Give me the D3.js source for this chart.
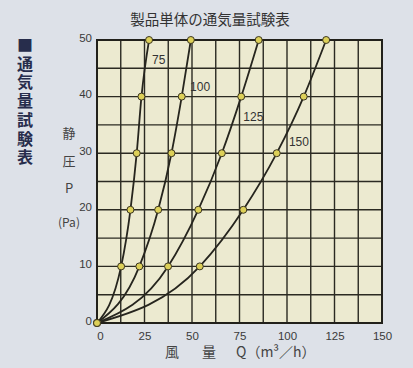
<!DOCTYPE html>
<html>
<head>
<meta charset="utf-8">
<script src="https://cdn.jsdelivr.net/npm/d3@7"></script>
<style>
  body { margin: 0; background: #dde1e8; }
  svg { display: block; font-family: "Noto Sans CJK JP", "Noto Sans", sans-serif; }
</style>
</head>
<body>
<script>
var svgWidth = 413;
var svgHeight = 368;
var margin = {top: 40, right: 31, bottom: 45, left: 97};

var width = svgWidth - margin.left - margin.right;
var height = svgHeight - margin.top - margin.bottom;

// data: Q (m3/h) at each static pressure P (Pa)
var pressures = [0, 10, 20, 30, 40, 50];
var curve75 = [0, 12.7, 17.6, 20.9, 23.4, 27.4];
var curve100 = [0, 22.3, 32.2, 39.2, 44.6, 49.4];
var curve125 = [0, 37.4, 53.3, 65.7, 75.9, 85.1];
var curve150 = [0, 54.1, 77.0, 94.6, 108.8, 120.6];
var curveNames = ["75", "100", "125", "150"];
var xTicks = [0, 25, 50, 75, 100, 125, 150];
var yTicks = [0, 10, 20, 30, 40, 50];

var svg = d3.select("body")
  .append("svg")
  .attr("width", svgWidth)
  .attr("height", svgHeight);

svg.append("rect")
  .attr("width", svgWidth)
  .attr("height", svgHeight)
  .attr("fill", "#dde1e8");

var chartGroup = svg.append("g")
  .attr("transform", "translate(" + margin.left + "," + margin.top + ")");

var x = d3.scaleLinear().domain([0, 150]).range([0, width]);
var y = d3.scaleLinear().domain([0, 50]).range([height, 0]);

// plot background
chartGroup.append("rect")
  .attr("width", width)
  .attr("height", height)
  .attr("fill", "#ecead0");

// grid lines every 12.5 / 5
chartGroup.selectAll(".vgrid")
  .data(d3.range(0, 150.1, 12.5))
  .enter()
  .append("line")
  .attr("x1", d => x(d))
  .attr("x2", d => x(d))
  .attr("y1", 0)
  .attr("y2", height)
  .attr("stroke", "#2b2a22")
  .attr("stroke-width", 1.4);

chartGroup.selectAll(".hgrid")
  .data(d3.range(0, 50.1, 5))
  .enter()
  .append("line")
  .attr("x1", 0)
  .attr("x2", width)
  .attr("y1", d => y(d))
  .attr("y2", d => y(d))
  .attr("stroke", "#2b2a22")
  .attr("stroke-width", 1.4);

chartGroup.append("rect")
  .attr("width", width)
  .attr("height", height)
  .attr("fill", "none")
  .attr("stroke", "#22211b")
  .attr("stroke-width", 2);

// axes (labels only)
var bottomAxis = d3.axisBottom(x).tickValues(xTicks).tickSize(0).tickPadding(9);
var leftAxis = d3.axisLeft(y).tickValues(yTicks).tickSize(0).tickPadding(5);

var gx = chartGroup.append("g")
  .attr("transform", `translate(0, ${height})`)
  .call(bottomAxis);
var gy = chartGroup.append("g").call(leftAxis);
[gx, gy].forEach(function(g) {
  g.select(".domain").remove();
  g.selectAll("text")
    .attr("fill", "#3a3a3a")
    .style("font-size", "11.5px")
    .style("font-family", "Liberation Sans, Arial, sans-serif");
});
gx.select(".tick text").attr("dx", 3);
gy.selectAll(".tick text").attr("dy", "0.1em");

// curves
var series = [curve75, curve100, curve125, curve150];
var line = d3.line()
  .x(d => x(d[0]))
  .y(d => y(d[1]))
  .curve(d3.curveMonotoneX);

series.forEach(function(s) {
  var pts = s.map((q, i) => [q, pressures[i]]);
  chartGroup.append("path")
    .datum(pts)
    .attr("d", line)
    .attr("fill", "none")
    .attr("stroke", "#26251e")
    .attr("stroke-width", 1.8);
});

series.forEach(function(s) {
  chartGroup.selectAll(null)
    .data(s.map((q, i) => [q, pressures[i]]))
    .enter()
    .append("circle")
    .attr("cx", d => x(d[0]))
    .attr("cy", d => y(d[1]))
    .attr("r", 3.5)
    .attr("fill", "#ddd058")
    .attr("stroke", "#3a3520")
    .attr("stroke-width", 1);
});

// curve labels
var labelPos = [[29, 45.8], [49, 41], [77, 35.7], [101, 31.3]];
chartGroup.selectAll(".clabel")
  .data(curveNames)
  .enter()
  .append("text")
  .attr("x", (d, i) => x(labelPos[i][0]))
  .attr("y", (d, i) => y(labelPos[i][1]))
  .attr("fill", "#333")
  .style("font-size", "12px")
  .style("font-family", "Liberation Sans, Arial, sans-serif")
  .text(d => d);

// title
svg.append("text")
  .attr("x", 210)
  .attr("y", 25)
  .attr("text-anchor", "middle")
  .attr("fill", "#333")
  .style("font-size", "14.5px")
  .text("製品単体の通気量試験表");

// left heading, set vertically as one string
svg.append("text")
  .attr("x", 25)
  .attr("y", 37)
  .style("writing-mode", "vertical-rl")
  .style("letter-spacing", "2.7px")
  .attr("fill", "#272d4c")
  .style("font-size", "16px")
  .style("font-weight", "bold")
  .text("■通気量試験表");

// y axis label
var yLab = ["静", "圧", "P", "(Pa)"];
var yLabY = [138, 166, 193, 227];
svg.selectAll(".ylab")
  .data(yLab)
  .enter()
  .append("text")
  .attr("x", 69)
  .attr("y", (d, i) => yLabY[i])
  .attr("text-anchor", "middle")
  .attr("fill", "#444")
  .style("font-size", (d, i) => i === 3 ? "12px" : "13px")
  .text(d => d);

// x axis label
var xLab = [["風", 165], ["量", 202], ["Q（m³／h）", 236]];
svg.selectAll(".xlab")
  .data(xLab)
  .enter()
  .append("text")
  .attr("x", d => d[1])
  .attr("y", 357)
  .attr("fill", "#444")
  .style("font-size", "14px")
  .text(d => d[0]);
</script>
</body>
</html>
